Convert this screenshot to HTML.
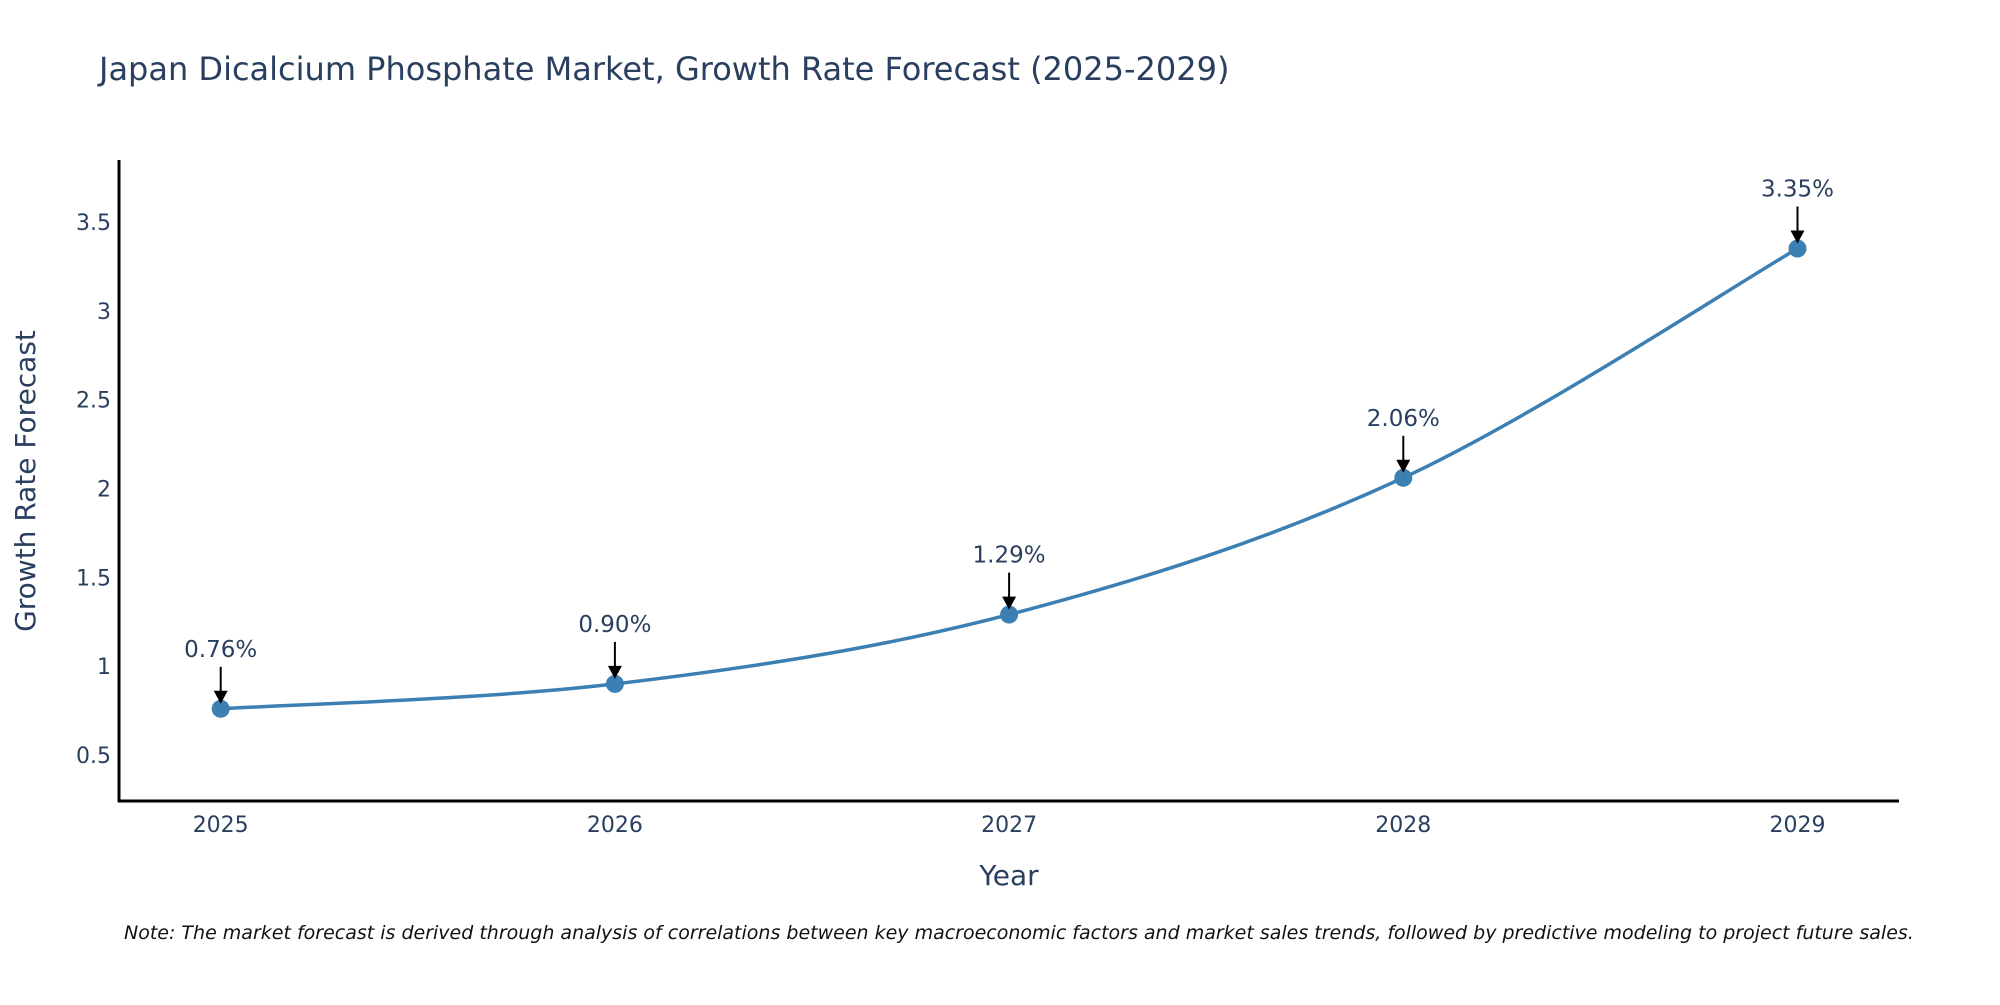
<!DOCTYPE html>
<html><head><meta charset="utf-8"><style>
body{margin:0;background:#fff;}
svg text{font-family:"DejaVu Sans","Liberation Sans",sans-serif;fill:#2a3f5f;}
</style></head><body>
<svg width="2000" height="1000" xmlns="http://www.w3.org/2000/svg">
<text x="99" y="80" font-size="32">Japan Dicalcium Phosphate Market, Growth Rate Forecast (2025-2029)</text>
<g id="plot"></g>
<line x1="119" y1="160" x2="119" y2="802" stroke="#000" stroke-width="3"/>
<line x1="118" y1="801" x2="1899" y2="801" stroke="#000" stroke-width="3"/>
<text transform="translate(35,481) rotate(-90)" text-anchor="middle" font-size="28">Growth Rate Forecast</text>
<text x="1009" y="885" text-anchor="middle" font-size="28">Year</text>
<text x="124" y="939" font-size="19" font-style="italic" style="fill:#111">Note: The market forecast is derived through analysis of correlations between key macroeconomic factors and market sales trends, followed by predictive modeling to project future sales.</text>
</svg>
<script>
const years = [2025, 2026, 2027, 2028, 2029];
const values = [0.76, 0.90, 1.29, 2.06, 3.35];
const labels = ["0.76%", "0.90%", "1.29%", "2.06%", "3.35%"];
const yTicks = [0.5, 1, 1.5, 2, 2.5, 3, 3.5];
const yTickLabels = ["0.5", "1", "1.5", "2", "2.5", "3", "3.5"];

const NS = "http://www.w3.org/2000/svg";
const g = document.getElementById('plot');
function xs(yr){ return 220.7 + (yr - 2025) * 394.2; }
function ys(v){ return 755 - (v - 0.5) * 177.7; }
function mk(tag, attrs){ const e = document.createElementNS(NS, tag); for (const k in attrs) e.setAttribute(k, attrs[k]); g.appendChild(e); return e; }

yTicks.forEach((t, i) => {
  const e = mk('text', {x: 111, y: ys(t) + 8, 'text-anchor': 'end', 'font-size': 22});
  e.textContent = yTickLabels[i];
  
  
});
years.forEach(yr => {
  const e = mk('text', {x: xs(yr), y: 832, 'text-anchor': 'middle', 'font-size': 22});
  e.textContent = String(yr);
  
  
});

const pts = years.map((yr, i) => [xs(yr), ys(values[i])]);
let d = `M${pts[0][0]},${pts[0][1]}`;
for (let i = 0; i < pts.length - 1; i++) {
  const p0 = pts[Math.max(0, i - 1)], p1 = pts[i], p2 = pts[i + 1], p3 = pts[Math.min(pts.length - 1, i + 2)];
  const c1 = [p1[0] + (p2[0] - p0[0]) / 6, p1[1] + (p2[1] - p0[1]) / 6];
  const c2 = [p2[0] - (p3[0] - p1[0]) / 6, p2[1] - (p3[1] - p1[1]) / 6];
  d += ` C${c1[0]},${c1[1]} ${c2[0]},${c2[1]} ${p2[0]},${p2[1]}`;
}
const line = mk('path', {d: d, fill: 'none', stroke: '#3b7fb3', 'stroke-width': 3.5});



pts.forEach((p, i) => {
  const c = mk('circle', {cx: p[0], cy: p[1], r: 9, fill: '#3b7fb3'});
  
  
  const a = mk('line', {x1: p[0], y1: p[1] - 42, x2: p[0], y2: p[1] - 17, stroke: '#000', 'stroke-width': 2});
  
  
  const h = mk('polygon', {points: `${p[0]-7},${p[1]-18} ${p[0]+7},${p[1]-18} ${p[0]},${p[1]-5}`, fill: '#000'});
  
  
  const t = mk('text', {x: p[0], y: p[1] - 52, 'text-anchor': 'middle', 'font-size': 23});
  t.textContent = labels[i];
  
  
});
</script>
</body></html>
